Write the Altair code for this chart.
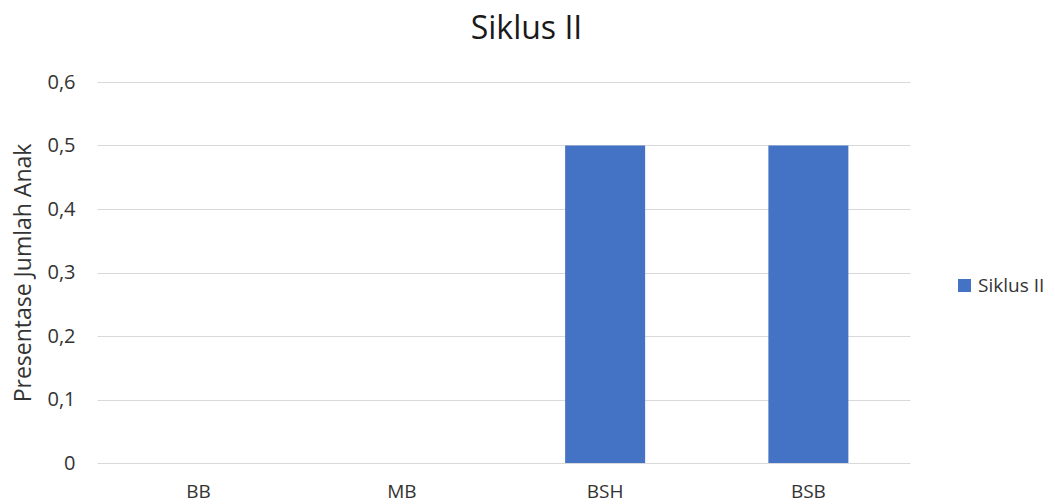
import altair as alt
import pandas as pd

categories = ["BB", "MB", "BSH", "BSB"]
values = [0, 0, 0.5, 0.5]
series = ["Siklus II"] * 4

df = pd.DataFrame({"Kategori": categories, "Nilai": values, "Seri": series})

font = "Open Sans"
txt = "#333333"

chart = alt.Chart(df).mark_bar(size=80).encode(
    x=alt.X("Kategori:N", sort=categories, title=None,
            axis=alt.Axis(labelAngle=0, labelFontSize=19, labelColor=txt,
                          labelPadding=19, ticks=False, domain=False, labelFont=font)),
    y=alt.Y("Nilai:Q", title="Presentase Jumlah Anak",
            scale=alt.Scale(domain=[0, 0.6], nice=False),
            axis=alt.Axis(values=[0, 0.1, 0.2, 0.3, 0.4, 0.5, 0.6],
                          labelExpr="datum.value == 0 ? '0' : replace(format(datum.value, '.1f'), '.', ',')",
                          labelFontSize=20, labelColor=txt, labelPadding=22,
                          ticks=False, domain=False, gridColor="#d9d9d9",
                          titleFontSize=23, titleFontWeight="normal", titleColor=txt,
                          titlePadding=11, labelFont=font, titleFont=font)),
    color=alt.Color("Seri:N", scale=alt.Scale(range=["#4472C4"]),
                    legend=alt.Legend(title=None, orient="none", legendX=858, legendY=194,
                                      symbolType="square", symbolSize=170,
                                      labelFontSize=19, labelColor=txt,
                                      labelFont=font, symbolStrokeWidth=0)),
).properties(
    width=813, height=381,
    title=alt.TitleParams("Siklus II", fontSize=32, fontWeight="normal", color="#1a1a1a",
                          font=font, anchor="middle", dx=23, offset=26),
    autosize=alt.AutoSizeParams(type="none"),
    padding={"left": 89, "top": 74, "right": 137, "bottom": 40},
).configure_view(stroke=None)

chart.save("out.html", embed_options={"renderer": "svg", "actions": False})
